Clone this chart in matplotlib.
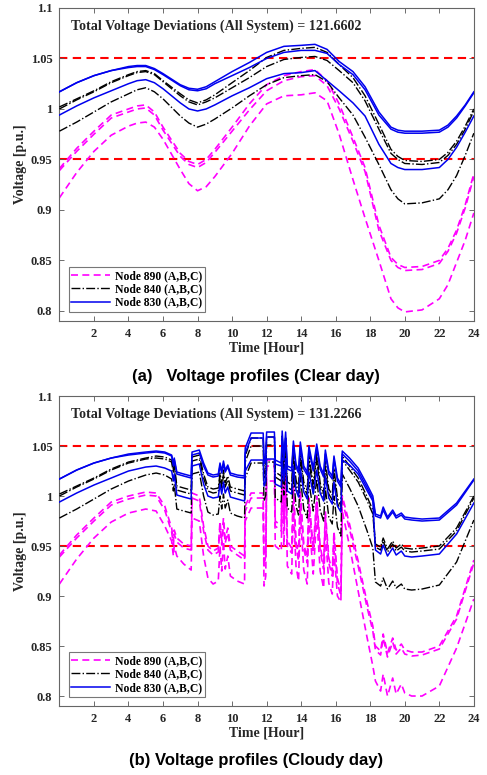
import numpy as np
import matplotlib
matplotlib.use('Agg')
import matplotlib.pyplot as plt
from matplotlib import rcParams

rcParams['font.family'] = 'Liberation Serif'
rcParams['font.weight'] = 'bold'
rcParams['axes.labelweight'] = 'bold'
rcParams['xtick.labelsize'] = 9
rcParams['ytick.labelsize'] = 9
rcParams['xtick.direction'] = 'in'
rcParams['ytick.direction'] = 'in'
rcParams['axes.edgecolor'] = '#666666'

# ---------------- clear day ----------------
hours_clear = [0, 1, 2, 3, 4, 4.5, 5, 5.5, 6, 7, 7.5, 8, 8.5, 9, 10, 11, 12, 13, 14, 14.8,
               15.5, 16.2, 17, 17.7, 18.5, 19.2, 19.6, 20, 21, 22, 22.5, 23, 23.5, 24]

clear_830 = [
    [1.017, 1.026, 1.033, 1.038, 1.042, 1.043, 1.043, 1.040, 1.035, 1.024, 1.0205, 1.0195, 1.022, 1.027,
     1.037, 1.046, 1.056, 1.062, 1.063, 1.064, 1.059, 1.047, 1.037, 1.022, 0.997, 0.982, 0.979, 0.978,
     0.978, 0.979, 0.984, 0.993, 1.004, 1.017],
    [1.017, 1.026, 1.033, 1.038, 1.041, 1.042, 1.042, 1.039, 1.034, 1.023, 1.019, 1.018, 1.020, 1.025,
     1.033, 1.041, 1.050, 1.056, 1.058, 1.058, 1.055, 1.044, 1.034, 1.019, 0.994, 0.980, 0.977, 0.976,
     0.976, 0.977, 0.982, 0.991, 1.003, 1.016],
    [0.994, 1.003, 1.011, 1.018, 1.025, 1.028, 1.029, 1.026, 1.020, 1.006, 1.000, 0.998, 1.000, 1.004,
     1.013, 1.021, 1.030, 1.035, 1.036, 1.038, 1.028, 1.018, 1.006, 0.993, 0.965, 0.946, 0.942, 0.940,
     0.940, 0.942, 0.950, 0.962, 0.977, 0.993],
]
clear_840 = [
    [1.002, 1.010, 1.018, 1.027, 1.034, 1.037, 1.038, 1.035, 1.028, 1.015, 1.009, 1.006, 1.009, 1.014,
     1.026, 1.038, 1.051, 1.058, 1.060, 1.061, 1.056, 1.044, 1.031, 1.013, 0.985, 0.960, 0.953, 0.949,
     0.948, 0.950, 0.957, 0.968, 0.983, 1.000],
    [1.000, 1.009, 1.017, 1.026, 1.033, 1.036, 1.037, 1.034, 1.027, 1.013, 1.007, 1.004, 1.007, 1.011,
     1.021, 1.031, 1.042, 1.049, 1.051, 1.052, 1.048, 1.038, 1.026, 1.008, 0.980, 0.956, 0.950, 0.946,
     0.945, 0.947, 0.954, 0.965, 0.980, 0.998],
    [0.978, 0.987, 0.997, 1.007, 1.015, 1.019, 1.021, 1.017, 1.010, 0.993, 0.986, 0.982, 0.985, 0.990,
     1.001, 1.013, 1.024, 1.031, 1.033, 1.034, 1.027, 1.011, 0.994, 0.972, 0.945, 0.920, 0.911, 0.906,
     0.907, 0.911, 0.920, 0.934, 0.954, 0.976],
]
clear_890 = [
    [0.941, 0.961, 0.978, 0.994, 1.000, 1.003, 1.004, 0.997, 0.982, 0.956, 0.948, 0.945, 0.950, 0.960,
     0.982, 1.005, 1.024, 1.033, 1.037, 1.039, 1.028, 1.005, 0.972, 0.942, 0.885, 0.853, 0.846, 0.843,
     0.844, 0.850, 0.862, 0.880, 0.905, 0.936],
    [0.939, 0.958, 0.975, 0.991, 0.997, 1.000, 1.001, 0.994, 0.979, 0.953, 0.945, 0.942, 0.947, 0.957,
     0.978, 0.999, 1.018, 1.028, 1.032, 1.033, 1.023, 1.000, 0.968, 0.938, 0.880, 0.850, 0.843, 0.840,
     0.841, 0.847, 0.859, 0.877, 0.902, 0.933],
    [0.912, 0.937, 0.958, 0.974, 0.983, 0.986, 0.987, 0.982, 0.970, 0.940, 0.926, 0.919, 0.923, 0.933,
     0.956, 0.983, 1.005, 1.013, 1.014, 1.016, 1.008, 0.975, 0.930, 0.892, 0.850, 0.812, 0.803, 0.799,
     0.801, 0.812, 0.826, 0.848, 0.870, 0.897],
]

# ---------------- cloudy day ----------------
hours_cloudy = [0, 1, 2, 3, 4, 5, 5.6, 6.1, 6.5, 6.6, 6.65, 6.8, 7.2, 7.63, 7.68, 8.1, 8.35, 8.6,
                8.9, 9.2, 9.3, 9.4, 9.5, 9.6, 9.75, 9.9, 10.3, 10.72, 10.76, 11.1, 11.8, 11.85,
                11.95, 12.0, 12.45, 12.5, 12.85, 12.9, 13.0, 13.1, 13.2, 13.45, 13.55, 13.7,
                13.85, 13.95, 14.15, 14.35, 14.45, 14.7, 14.9, 15.1, 15.3, 15.4, 15.6, 15.8,
                15.9, 16.1, 16.3, 16.38, 16.8, 17.3, 17.8, 18.15, 18.3, 18.6, 18.75, 19.0,
                19.3, 19.5, 19.8, 20.0, 20.4, 21, 22, 23, 24]

cloudy_830 = [
    [1.017, 1.026, 1.033, 1.038, 1.042, 1.044, 1.045, 1.044, 1.041, 1.032, 1.038, 1.024, 1.022, 1.020,
     1.044, 1.046, 1.033, 1.023, 1.021, 1.022, 1.033, 1.025, 1.035, 1.026, 1.031, 1.023, 1.021, 1.020,
     1.048, 1.063, 1.063, 1.036, 1.040, 1.064, 1.064, 1.036, 1.033, 1.065, 1.040, 1.064, 1.030, 1.028,
     1.055, 1.032, 1.026, 1.054, 1.030, 1.024, 1.050, 1.028, 1.052, 1.030, 1.022, 1.046, 1.025, 1.020,
     1.040, 1.018, 1.012, 1.045, 1.038, 1.028, 1.012, 1.000, 0.982, 0.980, 0.989, 0.979, 0.986, 0.980,
     0.983, 0.979, 0.978, 0.977, 0.978, 0.993, 1.017],
    [1.017, 1.026, 1.033, 1.038, 1.041, 1.043, 1.044, 1.043, 1.040, 1.030, 1.036, 1.022, 1.020, 1.018,
     1.041, 1.043, 1.030, 1.021, 1.019, 1.020, 1.030, 1.023, 1.032, 1.024, 1.029, 1.021, 1.019, 1.018,
     1.043, 1.058, 1.058, 1.032, 1.036, 1.059, 1.059, 1.032, 1.030, 1.059, 1.036, 1.058, 1.027, 1.025,
     1.050, 1.029, 1.023, 1.049, 1.027, 1.021, 1.046, 1.025, 1.048, 1.027, 1.019, 1.042, 1.022, 1.017,
     1.037, 1.015, 1.009, 1.042, 1.035, 1.025, 1.009, 0.997, 0.980, 0.978, 0.986, 0.977, 0.984, 0.978,
     0.981, 0.977, 0.976, 0.975, 0.976, 0.991, 1.016],
    [0.994, 1.003, 1.011, 1.018, 1.025, 1.029, 1.030, 1.028, 1.025, 1.015, 1.022, 1.001, 0.999, 0.997,
     1.030, 1.032, 1.012, 1.000, 0.998, 0.999, 1.012, 1.002, 1.014, 1.003, 1.009, 0.999, 0.997, 0.995,
     1.025, 1.036, 1.036, 1.010, 1.015, 1.037, 1.037, 1.012, 1.009, 1.038, 1.015, 1.037, 1.005, 1.002,
     1.030, 1.006, 0.999, 1.028, 1.004, 0.997, 1.024, 1.002, 1.026, 1.003, 0.995, 1.020, 0.998, 0.992,
     1.014, 0.990, 0.984, 1.036, 1.031, 1.022, 1.006, 0.995, 0.946, 0.942, 0.951, 0.940, 0.948, 0.941,
     0.945, 0.940, 0.939, 0.940, 0.942, 0.962, 0.993],
]
cloudy_840 = [
    [1.002, 1.010, 1.018, 1.027, 1.034, 1.038, 1.040, 1.039, 1.036, 1.026, 1.032, 1.010, 1.008, 1.006,
     1.039, 1.041, 1.022, 1.009, 1.007, 1.008, 1.023, 1.012, 1.026, 1.013, 1.020, 1.009, 1.007, 1.005,
     1.040, 1.058, 1.058, 1.022, 1.027, 1.059, 1.059, 1.024, 1.020, 1.060, 1.027, 1.058, 1.014, 1.011,
     1.047, 1.016, 1.008, 1.045, 1.014, 1.006, 1.040, 1.012, 1.043, 1.013, 1.003, 1.035, 1.007, 1.001,
     1.028, 0.998, 0.990, 1.040, 1.030, 1.018, 1.000, 0.986, 0.952, 0.949, 0.958, 0.947, 0.955, 0.948,
     0.952, 0.948, 0.947, 0.948, 0.950, 0.968, 1.000],
    [1.000, 1.009, 1.017, 1.026, 1.033, 1.037, 1.038, 1.037, 1.034, 1.023, 1.029, 1.006, 1.004, 1.002,
     1.035, 1.037, 1.018, 1.005, 1.003, 1.004, 1.019, 1.008, 1.021, 1.009, 1.016, 1.005, 1.003, 1.001,
     1.034, 1.050, 1.050, 1.017, 1.022, 1.051, 1.051, 1.019, 1.015, 1.052, 1.021, 1.050, 1.009, 1.006,
     1.041, 1.011, 1.003, 1.039, 1.009, 1.001, 1.034, 1.007, 1.037, 1.008, 0.998, 1.029, 1.002, 0.996,
     1.022, 0.993, 0.985, 1.036, 1.026, 1.014, 0.996, 0.982, 0.949, 0.946, 0.955, 0.944, 0.952, 0.945,
     0.949, 0.945, 0.944, 0.945, 0.947, 0.965, 0.998],
    [0.978, 0.987, 0.997, 1.007, 1.015, 1.021, 1.023, 1.021, 1.017, 1.005, 1.012, 0.987, 0.985, 0.983,
     1.022, 1.024, 1.000, 0.984, 0.981, 0.982, 1.000, 0.987, 1.002, 0.988, 0.996, 0.983, 0.980, 0.978,
     1.018, 1.033, 1.033, 0.995, 1.001, 1.034, 1.034, 0.998, 0.994, 1.036, 1.001, 1.034, 0.988, 0.984,
     1.022, 0.990, 0.981, 1.020, 0.987, 0.978, 1.014, 0.985, 1.017, 0.986, 0.975, 1.008, 0.979, 0.972,
     1.000, 0.969, 0.960, 1.022, 1.008, 0.990, 0.966, 0.948, 0.914, 0.910, 0.918, 0.907, 0.915, 0.908,
     0.912, 0.907, 0.906, 0.907, 0.911, 0.934, 0.976],
]
cloudy_890 = [
    [0.941, 0.961, 0.978, 0.994, 1.000, 1.004, 1.003, 0.990, 0.968, 0.955, 0.966, 0.958, 0.952, 0.950,
     1.003, 1.000, 0.970, 0.950, 0.945, 0.948, 0.975, 0.955, 0.978, 0.957, 0.968, 0.950, 0.945, 0.940,
     0.990, 1.003, 1.003, 0.935, 0.945, 1.036, 1.036, 0.975, 0.970, 1.040, 0.975, 1.038, 0.955, 0.948,
     1.010, 0.955, 0.940, 1.005, 0.952, 0.938, 0.998, 0.948, 1.000, 0.950, 0.932, 0.985, 0.938, 0.925,
     0.965, 0.918, 0.905, 1.000, 0.972, 0.935, 0.895, 0.870, 0.850, 0.845, 0.862, 0.843, 0.858, 0.846,
     0.852, 0.846, 0.844, 0.844, 0.850, 0.880, 0.936],
    [0.939, 0.958, 0.975, 0.991, 0.997, 1.001, 1.000, 0.986, 0.964, 0.951, 0.962, 0.954, 0.948, 0.946,
     0.998, 0.995, 0.965, 0.946, 0.941, 0.944, 0.970, 0.951, 0.973, 0.953, 0.963, 0.946, 0.941, 0.936,
     0.985, 0.998, 0.998, 0.930, 0.940, 1.030, 1.030, 0.970, 0.965, 1.034, 0.970, 1.032, 0.950, 0.943,
     1.004, 0.950, 0.935, 0.999, 0.947, 0.933, 0.992, 0.943, 0.994, 0.945, 0.927, 0.979, 0.933, 0.920,
     0.959, 0.913, 0.900, 0.995, 0.967, 0.930, 0.890, 0.865, 0.846, 0.841, 0.858, 0.839, 0.854, 0.842,
     0.848, 0.842, 0.840, 0.841, 0.847, 0.877, 0.933],
    [0.912, 0.937, 0.958, 0.974, 0.983, 0.987, 0.985, 0.970, 0.955, 0.940, 0.950, 0.940, 0.932, 0.926,
     0.978, 0.975, 0.940, 0.918, 0.912, 0.915, 0.950, 0.925, 0.955, 0.927, 0.940, 0.920, 0.915, 0.912,
     0.975, 0.988, 0.988, 0.910, 0.920, 1.015, 1.015, 0.950, 0.945, 1.020, 0.950, 1.018, 0.930, 0.922,
     0.990, 0.930, 0.915, 0.985, 0.926, 0.912, 0.978, 0.922, 0.980, 0.925, 0.908, 0.965, 0.913, 0.902,
     0.945, 0.900, 0.894, 0.985, 0.950, 0.905, 0.860, 0.830, 0.815, 0.805, 0.822, 0.800, 0.818, 0.802,
     0.812, 0.803, 0.800, 0.800, 0.810, 0.848, 0.897],
]

totals = ['121.6602', '131.2266']
captions = ['(a)   Voltage profiles (Clear day)', '(b) Voltage profiles (Cloudy day)']
legend_labels = ['Node 890 (A,B,C)', 'Node 840 (A,B,C)', 'Node 830 (A,B,C)']
limits = [1.05, 0.95]
xticks = list(range(2, 25, 2))
yticks = [0.8, 0.85, 0.9, 0.95, 1.0, 1.05, 1.1]
ytick_labels = ['0.8', '0.85', '0.9', '0.95', '1', '1.05', '1.1']

fig = plt.figure(figsize=(4.87, 7.75), dpi=100)
ax1 = fig.add_axes([0.122, 0.5858, 0.851, 0.4039])
ax2 = fig.add_axes([0.122, 0.0890, 0.851, 0.4000])

datasets = [(ax1, hours_clear, clear_890, clear_840, clear_830),
            (ax2, hours_cloudy, cloudy_890, cloudy_840, cloudy_830)]

for i, (ax, t, v890, v840, v830) in enumerate(datasets):
    for lim in limits:
        ax.axhline(lim, color='red', lw=1.5, linestyle=(0, (4, 2.6)), zorder=1)
    for s in v890:
        l890, = ax.plot(t, s, color='magenta', lw=1.2, linestyle=(0, (4.2, 2.6)), zorder=2)
    for s in v840:
        l840, = ax.plot(t, s, color='black', lw=1.0, linestyle='-.', zorder=3)
    for s in v830:
        l830, = ax.plot(t, s, color='#0000ee', lw=1.1, linestyle='-', zorder=4)

    ax.set_xlim(0, 24)
    ax.set_ylim(0.79, 1.1)
    ax.set_xticks(xticks)
    ax.set_yticks(yticks)
    ax.set_yticklabels(ytick_labels)
    ax.tick_params(top=True, right=True, length=3.5, width=0.6, colors='#555555',
                   labelcolor='#262626', pad=5)
    for lab in ax.get_xticklabels() + ax.get_yticklabels():
        lab.set_fontweight('bold')
    ax.set_xlabel('Time [Hour]', fontsize=10, color='#262626', labelpad=1)
    ax.set_ylabel('Voltage [p.u.]', fontsize=10, color='#262626', labelpad=3)

    ax.text(0.028, 0.942, 'Total Voltage Deviations (All System) = ' + totals[i],
            transform=ax.transAxes, fontsize=10.1, fontweight='bold', color='#262626',
            va='center', ha='left')

    lg = ax.legend([l890, l840, l830], legend_labels, loc='lower left',
                   bbox_to_anchor=(0.022, 0.03), fontsize=8.4, frameon=True,
                   fancybox=False, edgecolor='#555555', handlelength=3.3,
                   borderpad=0.25, labelspacing=0.12, handletextpad=0.45, borderaxespad=0)
    lg.get_frame().set_linewidth(0.8)
    for txt in lg.get_texts():
        txt.set_fontweight('bold')

fig.text(0.526, 1 - 376.7 / 775, captions[0], ha='center', va='center', fontsize=12,
         fontweight='bold', family='Liberation Sans')
fig.text(0.526, 1 - 760 / 775, captions[1], ha='center', va='center', fontsize=12,
         fontweight='bold', family='Liberation Sans')

fig.savefig('out.png', dpi=100)
